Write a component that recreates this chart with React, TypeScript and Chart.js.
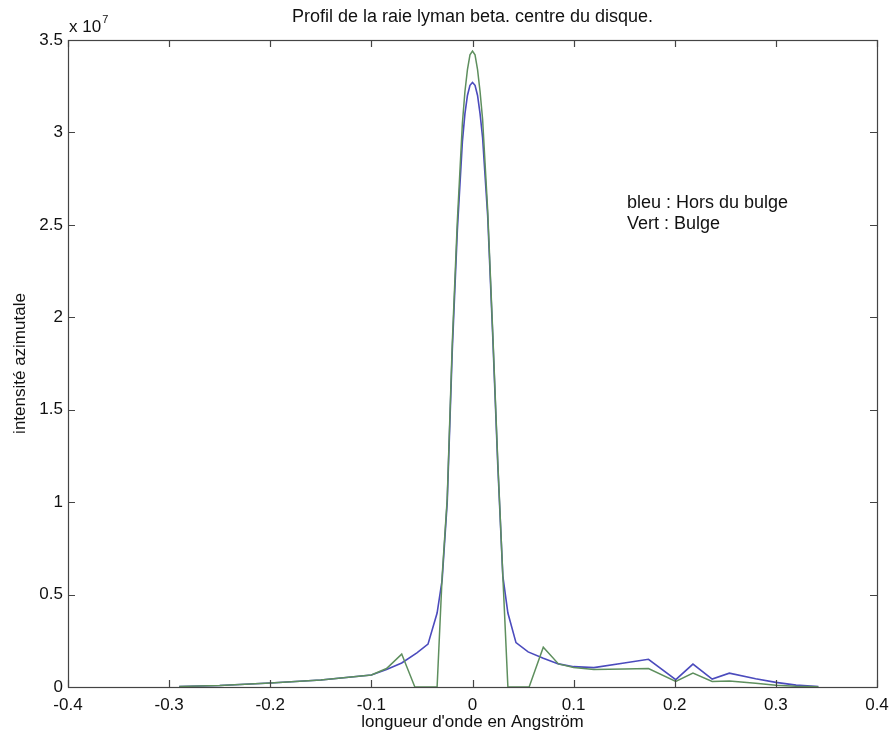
import React, { useEffect, useRef } from "react";
import { Chart, registerables } from "chart.js";

Chart.register(...registerables);

const blueX = [-0.29, -0.25, -0.2, -0.15, -0.1, -0.085, -0.07, -0.055, -0.044, -0.035, -0.03, -0.025, -0.02, -0.015, -0.01, -0.0075, -0.005, -0.0025, 0, 0.0025, 0.005, 0.0075, 0.01, 0.015, 0.02, 0.025, 0.03, 0.035, 0.043, 0.055, 0.07, 0.085, 0.1, 0.12, 0.15, 0.174, 0.201, 0.218, 0.237, 0.254, 0.28, 0.3, 0.32, 0.342];
const blueY = [0.003, 0.008, 0.022, 0.038, 0.065, 0.095, 0.13, 0.185, 0.232, 0.4, 0.58, 1.0, 1.82, 2.47, 2.95, 3.1, 3.2, 3.255, 3.27, 3.255, 3.2, 3.1, 2.97, 2.55, 1.9, 1.2, 0.6, 0.4, 0.24, 0.19, 0.155, 0.125, 0.11, 0.105, 0.13, 0.15, 0.04, 0.124, 0.043, 0.075, 0.045, 0.025, 0.01, 0.003];

const greenX = [-0.29, -0.25, -0.2, -0.15, -0.1, -0.085, -0.07, -0.057, -0.035, -0.03, -0.025, -0.02, -0.015, -0.01, -0.0075, -0.005, -0.0025, 0, 0.0025, 0.005, 0.0075, 0.01, 0.015, 0.02, 0.025, 0.03, 0.035, 0.056, 0.07, 0.085, 0.1, 0.12, 0.15, 0.174, 0.201, 0.218, 0.237, 0.254, 0.28, 0.3, 0.32, 0.342];
const greenY = [0.003, 0.008, 0.022, 0.038, 0.065, 0.1, 0.178, 0.0, 0.0, 0.6, 1.02, 1.86, 2.52, 3.05, 3.22, 3.34, 3.42, 3.44, 3.42, 3.34, 3.22, 3.07, 2.58, 1.92, 1.22, 0.6, 0.0, 0.0, 0.215, 0.125, 0.105, 0.095, 0.098, 0.1, 0.03, 0.075, 0.03, 0.032, 0.02, 0.01, 0.004, 0.002];

const xTicks = [-0.4, -0.3, -0.2, -0.1, 0, 0.1, 0.2, 0.3, 0.4];
const yTicks = [0, 0.5, 1, 1.5, 2, 2.5, 3, 3.5];

const titleText = "Profil de la raie lyman beta. centre du disque.";
const xTitle = "longueur d'onde en Angström";
const yTitle = "intensité azimutale";
const notes = ["bleu : Hors du bulge", "Vert : Bulge"];

const FONT = "Liberation Sans, Arial, sans-serif";

const decorPlugin = {
  id: "decor",
  afterDraw(chart: any) {
    const { ctx, chartArea } = chart;
    const xs = chart.scales.x;
    const ys = chart.scales.y;
    const { left, right, top, bottom } = chartArea;
    ctx.save();
    ctx.strokeStyle = "#444";
    ctx.lineWidth = 1.2;
    ctx.strokeRect(Math.round(left) + 0.5, Math.round(top) + 0.5, Math.round(right - left), Math.round(bottom - top));
    const tl = 7;
    ctx.beginPath();
    xTicks.forEach((v) => {
      const px = Math.round(xs.getPixelForValue(v)) + 0.5;
      ctx.moveTo(px, bottom);
      ctx.lineTo(px, bottom - tl);
      ctx.moveTo(px, top);
      ctx.lineTo(px, top + tl);
    });
    yTicks.forEach((v) => {
      const py = Math.round(ys.getPixelForValue(v)) + 0.5;
      ctx.moveTo(left, py);
      ctx.lineTo(left + tl, py);
      ctx.moveTo(right, py);
      ctx.lineTo(right - tl, py);
    });
    ctx.stroke();

    ctx.fillStyle = "#111";
    ctx.font = `18px ${FONT}`;
    ctx.textAlign = "center";
    ctx.textBaseline = "alphabetic";
    ctx.fillText(titleText, (left + right) / 2, 22);

    ctx.textAlign = "left";
    ctx.font = `17px ${FONT}`;
    ctx.fillText("x 10", left + 1, 32);
    const w = ctx.measureText("x 10").width;
    ctx.font = `11px ${FONT}`;
    ctx.fillText("7", left + 1 + w + 1, 23);

    ctx.font = `18px ${FONT}`;
    notes.forEach((t, i) => ctx.fillText(t, 627, 208 + i * 21));
    ctx.restore();
  },
};

export default function App() {
  const ref = useRef<HTMLCanvasElement | null>(null);
  useEffect(() => {
    if (!ref.current) return;
    const chart = new Chart(ref.current, {
      type: "line",
      data: {
        datasets: [
          {
            label: "Vert",
            data: greenX.map((x, i) => ({ x, y: greenY[i] })),
            borderColor: "#5e8f5e",
            borderWidth: 1.5,
            pointRadius: 0,
            tension: 0,
            fill: false,
          },
          {
            label: "bleu",
            data: blueX.map((x, i) => ({ x, y: blueY[i] })),
            borderColor: "#4b4bbd",
            borderWidth: 1.6,
            pointRadius: 0,
            tension: 0,
            fill: false,
          },
        ],
      },
      options: {
        responsive: false,
        animation: false,
        layout: { padding: { top: 40, right: 15, left: 10, bottom: 5 } },
        plugins: { legend: { display: false }, tooltip: { enabled: false } },
        scales: {
          x: {
            type: "linear",
            min: -0.4,
            max: 0.4,
            afterBuildTicks: (s: any) => {
              s.ticks = xTicks.map((v) => ({ value: v }));
            },
            afterFit: (s: any) => {
              s.height = 46;
              s.paddingLeft = 0;
              s.paddingRight = 0;
            },
            grid: { display: false, drawTicks: false },
            border: { display: false },
            ticks: {
              padding: 8,
              color: "#111",
              font: { family: FONT, size: 17 },
              callback: (v: any) => (Math.abs(v) < 1e-9 ? "0" : Number(v).toFixed(1)),
            },
            title: {
              display: true,
              text: xTitle,
              color: "#111",
              font: { family: FONT, size: 17 },
              padding: { top: 0, bottom: 0 },
            },
          },
          y: {
            type: "linear",
            min: 0,
            max: 3.5,
            afterBuildTicks: (s: any) => {
              s.ticks = yTicks.map((v) => ({ value: v }));
            },
            afterFit: (s: any) => {
              s.width = 58;
              s.paddingTop = 0;
              s.paddingBottom = 0;
            },
            grid: { display: false, drawTicks: false },
            border: { display: false },
            ticks: {
              padding: 5,
              color: "#111",
              font: { family: FONT, size: 17 },
              callback: (v: any) => (v === 0 ? "0" : Number.isInteger(v) ? String(v) : Number(v).toFixed(1)),
            },
            title: {
              display: true,
              text: yTitle,
              color: "#111",
              font: { family: FONT, size: 17 },
              padding: { top: 0, bottom: 0 },
            },
          },
        },
      },
      plugins: [decorPlugin],
    });
    return () => chart.destroy();
  }, []);
  return (
    <div style={{ position: "absolute", left: 0, top: 0, width: 892, height: 738, background: "#fff" }}>
      <canvas ref={ref} width={892} height={738} />
    </div>
  );
}
